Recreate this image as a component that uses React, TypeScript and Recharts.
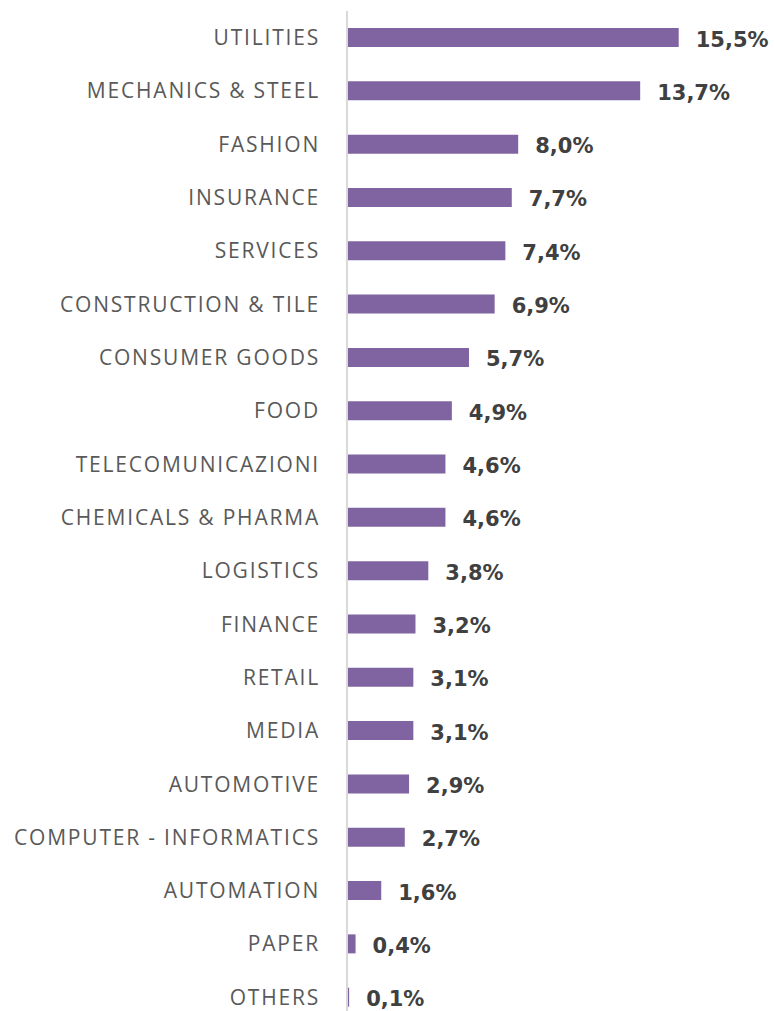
import React from 'react';
import { BarChart, Bar, XAxis, YAxis, LabelList } from 'recharts';

const categories = [
  'UTILITIES', 'MECHANICS & STEEL', 'FASHION', 'INSURANCE', 'SERVICES',
  'CONSTRUCTION & TILE', 'CONSUMER GOODS', 'FOOD', 'TELECOMUNICAZIONI',
  'CHEMICALS & PHARMA', 'LOGISTICS', 'FINANCE', 'RETAIL', 'MEDIA',
  'AUTOMOTIVE', 'COMPUTER - INFORMATICS', 'AUTOMATION', 'PAPER', 'OTHERS',
];
const values = [15.5, 13.7, 8.0, 7.7, 7.4, 6.9, 5.7, 4.9, 4.6, 4.6, 3.8, 3.2, 3.1, 3.1, 2.9, 2.7, 1.6, 0.4, 0.1];

const data = categories.map((name, i) => ({ name, value: values[i] }));

const fmt = (v: number) => v.toFixed(1).replace('.', ',') + '%';

const ValueLabel = (props: any) => {
  const { x, y, width, height, value } = props;
  return (
    <text
      x={Number(x) + Number(width) + 17}
      y={Number(y) + Number(height) / 2 + 2}
      dominantBaseline="central"
      fontFamily="'DejaVu Sans', sans-serif"
      fontWeight="bold"
      fontSize={21}
      fill="#404040"
    >
      {fmt(Number(value))}
    </text>
  );
};

export default function App() {
  return (
    <div style={{ position: 'absolute', top: 0, left: 0, width: 775, height: 1011, overflow: 'hidden', background: '#fff' }}>
      <BarChart
        width={775}
        height={1024}
        data={data}
        layout="vertical"
        margin={{ top: 11, right: 0, bottom: 0, left: 0 }}
      >
        <XAxis type="number" domain={[0, 20]} hide />
        <YAxis
          type="category"
          dataKey="name"
          width={347}
          axisLine={{ stroke: '#d9d9d9', strokeWidth: 2 }}
          tickLine={false}
          tickSize={0}
          tickMargin={27}
          interval={0}
          tick={{ fill: '#595959', fontSize: 21, letterSpacing: 1.8, fontFamily: "'Open Sans', sans-serif" }}
        />
        <Bar dataKey="value" fill="#8064A2" barSize={19} isAnimationActive={false}>
          <LabelList dataKey="value" content={ValueLabel} />
        </Bar>
      </BarChart>
    </div>
  );
}
